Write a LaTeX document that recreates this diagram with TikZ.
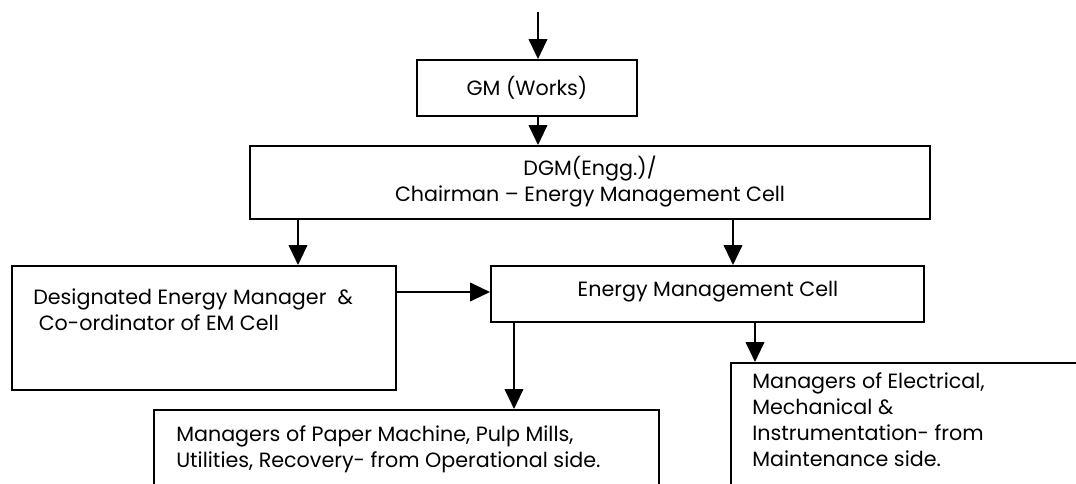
\documentclass[tikz,border=0pt]{standalone}
\usepackage{fontspec}
\setmainfont{Poppins}
\usetikzlibrary{arrows.meta}
\begin{document}
\begin{tikzpicture}[x=0.75pt,y=-0.75pt,
  box/.style={draw,line width=1.5pt,inner sep=0pt},
  lbl/.style={inner sep=0pt,font=\fontsize{15.5}{19.5}\selectfont},
  arr/.style={line width=1.5pt,-{Triangle[length=15pt,width=14pt]}}]
\useasboundingbox (0,0) rectangle (1076,483);
\clip (0,0) rectangle (1076,483);
% boxes
\node[box,minimum width=220*0.75pt,minimum height=56*0.75pt] (gm) at (527,88) {};
\node[box,minimum width=680*0.75pt,minimum height=73*0.75pt] (dgm) at (590,182.5) {};
\node[box,minimum width=384*0.75pt,minimum height=124*0.75pt] (dem) at (204,328) {};
\node[box,minimum width=433*0.75pt,minimum height=56*0.75pt] (emc) at (707.5,294) {};
\node[box,minimum width=505*0.75pt,minimum height=120*0.75pt] (pap) at (406.5,470) {};
\node[box,minimum width=420*0.75pt,minimum height=160*0.75pt] (mnt) at (941,443) {};
% texts
\node[lbl] (tgm) at (gm.center) {GM (Works)};
\node[lbl,align=center] (tdgm) at (590,181.5) {DGM(Engg.)/\\Chairman – Energy Management Cell};
\node[lbl,align=left,anchor=west] (tdem) at (33,309.5) {Designated Energy Manager\ \ \&\\\ Co-ordinator of EM Cell};
\node[lbl] (temc) at (708,292) {Energy Management Cell};
\node[lbl,align=left,anchor=west] (tpap) at (176,449.5) {Managers of Paper Machine, Pulp Mills,\\Utilities, Recovery- from Operational side.};
\node[lbl,align=left,anchor=west] (tmnt) at (752,420) {Managers of Electrical,\\Mechanical \&\\Instrumentation- from\\Maintenance side.};
% connectors
\coordinate (top) at (538,12);
\draw[arr] (top) -- (top |- gm.north);
\draw[arr] (gm.south -| 538,0) -- (dgm.north -| 538,0);
\draw[arr] (dgm.south -| 298,0) -- (dem.north -| 298,0);
\draw[arr] (dgm.south -| 733,0) -- (emc.north -| 733,0);
\draw[arr] (dem.east |- 0,292) -- (emc.west |- 0,292);
\draw[arr] (emc.south -| 514,0) -- (pap.north -| 514,0);
\draw[arr] (emc.south -| 755,0) -- (mnt.north -| 755,0);
\end{tikzpicture}
\end{document}
